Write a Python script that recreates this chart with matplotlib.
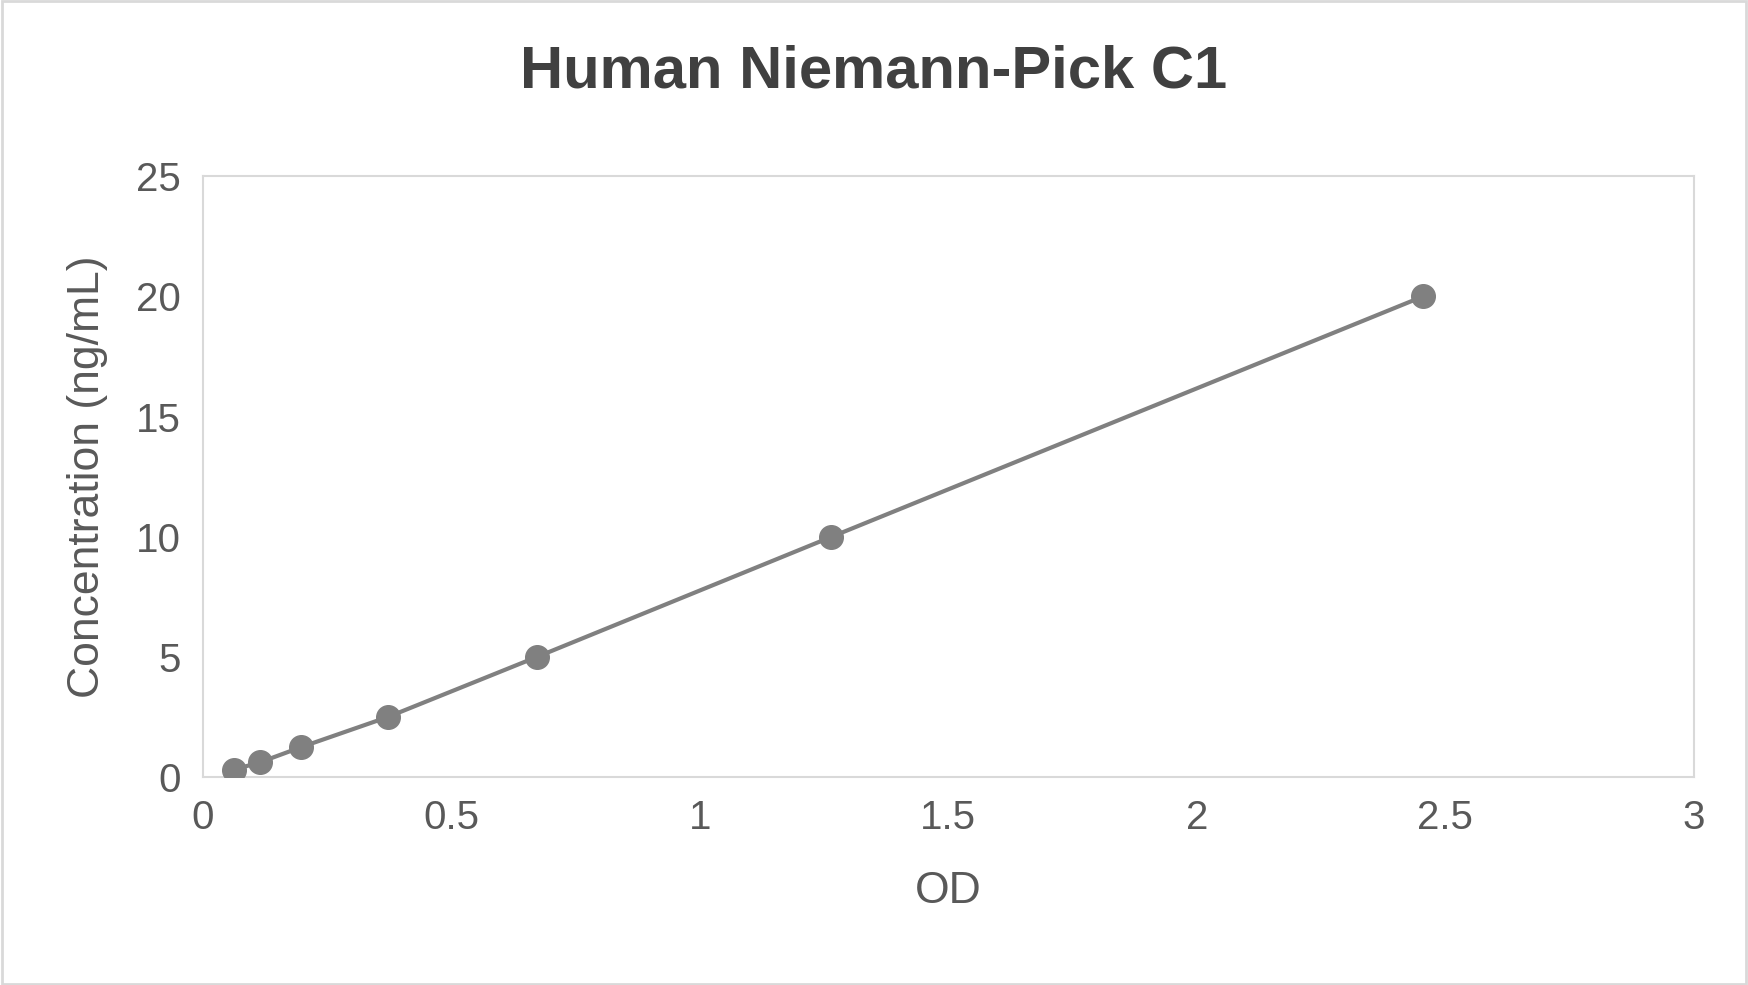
import matplotlib.pyplot as plt

# данные стандартной кривой
od = [0.063, 0.116, 0.198, 0.372, 0.672, 1.265, 2.455]
conc = [0.3125, 0.625, 1.25, 2.5, 5, 10, 20]

plt.rcParams['font.family'] = ['Liberation Sans', 'DejaVu Sans']
txt = "#595959"

fig = plt.figure(figsize=[17.48, 9.85], dpi=100)
ax = fig.add_axes([0.116, 0.211, 0.853, 0.610])
ax.plot(od, conc, color="#808080", linewidth=3, marker="o", markersize=17, zorder=3)
ax.set(xlim=[0, 3], ylim=[0, 25])
ax.set_xticks([0, 0.5, 1, 1.5, 2, 2.5, 3])
ax.set_xticklabels(["0", "0.5", "1", "1.5", "2", "2.5", "3"])
ax.set_yticks([0, 5, 10, 15, 20, 25])
for s in ax.spines.values():
    s.set_color("#d9d9d9")
    s.set_linewidth(1.5)
ax.tick_params(length=0, labelsize=29, colors=txt, pad=16)
ax.set_xlabel("OD", fontsize=32, color=txt, labelpad=24)
ax.set_ylabel("Concentration (ng/mL)", fontsize=32, color=txt, labelpad=20)
fig.suptitle("Human Niemann-Pick C1", fontsize=43, fontweight="bold", color="#404040", y=0.955)
fig.patches.append(plt.Rectangle((0.001, 0.001), 0.998, 0.998, transform=fig.transFigure,
                                 fill=False, edgecolor="#d9d9d9", linewidth=2))
fig.savefig("out.png", dpi=100)
